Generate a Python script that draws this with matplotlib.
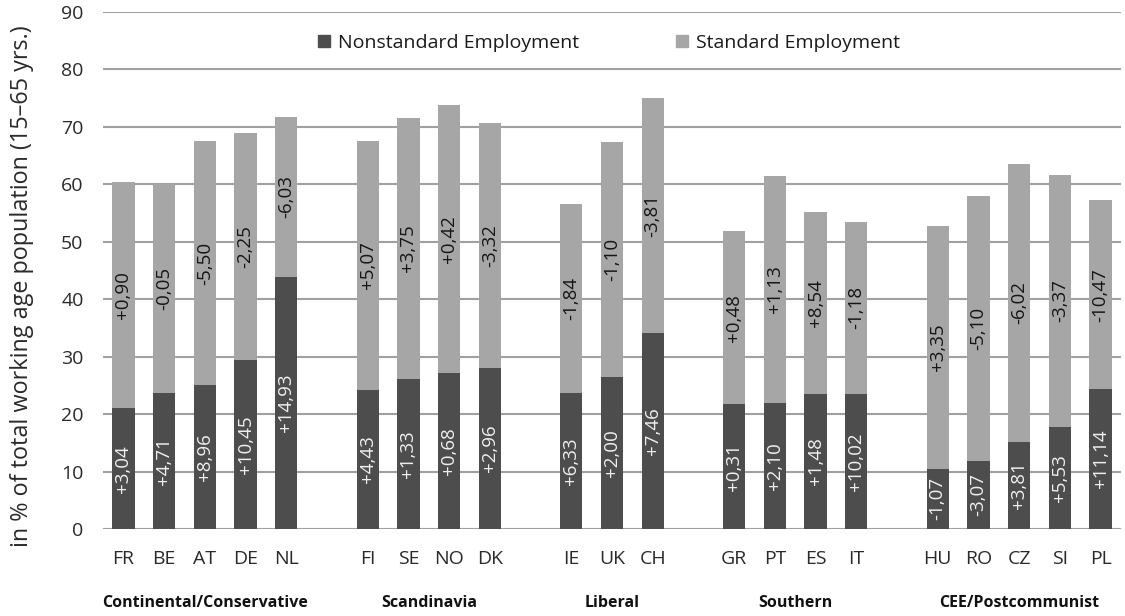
import numpy as np
import matplotlib
matplotlib.use("Agg")
import matplotlib.pyplot as plt
from matplotlib.patches import Patch

plt.rcParams['font.family'] = ['Open Sans', 'DejaVu Sans']

# Data
groups = ["Continental/Conservative", "Scandinavia", "Liberal", "Southern", "CEE/Postcommunist"]
countries = [["FR", "BE", "AT", "DE", "NL"],
             ["FI", "SE", "NO", "DK"],
             ["IE", "UK", "CH"],
             ["GR", "PT", "ES", "IT"],
             ["HU", "RO", "CZ", "SI", "PL"]]
nonstandard = [21.0, 23.6, 25.1, 29.4, 43.8,
               24.2, 26.2, 27.2, 28.0,
               23.7, 26.5, 34.1,
               21.7, 21.9, 23.5, 23.5,
               10.5, 11.9, 15.2, 17.7, 24.4]
total = [60.4, 60.0, 67.5, 68.9, 71.8,
         67.6, 71.6, 73.8, 70.7,
         56.5, 67.3, 75.0,
         51.9, 61.5, 55.2, 53.5,
         52.8, 57.9, 63.6, 61.7, 57.2]
nonstd_change = ["+3,04", "+4,71", "+8,96", "+10,45", "+14,93",
                 "+4,43", "+1,33", "+0,68", "+2,96",
                 "+6,33", "+2,00", "+7,46",
                 "+0,31", "+2,10", "+1,48", "+10,02",
                 "-1,07", "-3,07", "+3,81", "+5,53", "+11,14"]
std_change = ["+0,90", "-0,05", "-5,50", "-2,25", "-6,03",
              "+5,07", "+3,75", "+0,42", "-3,32",
              "-1,84", "-1,10", "-3,81",
              "+0,48", "+1,13", "+8,54", "-1,18",
              "+3,35", "-5,10", "-6,02", "-3,37", "-10,47"]

standard = [t - n for t, n in zip(total, nonstandard)]

# x positions: one empty slot between groups
xpos = []
labels = []
group_centers = []
pos = 0
for g in countries:
    start = pos
    for c in g:
        xpos.append(pos)
        labels.append(c)
        pos += 1
    group_centers.append((start + pos - 1) / 2)
    pos += 1
xpos = np.array(xpos)

dark = "#4d4d4d"
light = "#a6a6a6"

fig = plt.figure(figsize=(11.25, 6.16), dpi=100)
ax = fig.add_axes([0.0916, 0.1412, 0.9048, 0.8393])

ax.bar(xpos, nonstandard, width=0.55, color=dark, zorder=3)
ax.bar(xpos, standard, width=0.55, bottom=nonstandard, color=light, zorder=3)

for x, n, s, ln, ls in zip(xpos, nonstandard, standard, nonstd_change, std_change):
    ax.text(x, n / 2, ln, rotation=90, ha="center", va="center",
            color="#f0f0f0", fontsize=13.5, zorder=4)
    ax.text(x, n + s / 2, ls, rotation=90, ha="center", va="center",
            color="#151515", fontsize=13.5, zorder=4)

ax.set_xlim(-0.5, pos - 1 - 0.5)
ax.set_ylim(0, 90)
ax.set_yticks(range(0, 91, 10))
ax.set_xticks(xpos)
ax.set_xticklabels(labels)
ax.yaxis.grid(True, color="#a0a0a0", linewidth=1.5, zorder=0)
for sp in ax.spines.values():
    sp.set_visible(False)
ax.tick_params(axis="both", length=0, labelsize=14, colors="#2a2a2a")
ax.tick_params(axis="x", pad=15)
ax.tick_params(axis="y", pad=14)
ax.set_ylabel("in % of total working age population (15\u201365 yrs.)",
              fontsize=16.8, color="#2a2a2a")
ax.yaxis.set_label_coords(-0.068, 0.47)

for gc, name in zip(group_centers, groups):
    ax.text(gc, -0.143, name, transform=ax.get_xaxis_transform(),
            ha="center", va="center", fontsize=11.5, fontweight="bold", color="#111111")

handles = [Patch(color=dark), Patch(color=light)]
ax.legend(handles, ["Nonstandard Employment", "Standard Employment"],
          loc="center", bbox_to_anchor=(0.497, 0.94), ncol=2, frameon=False,
          fontsize=14, handlelength=0.6, handleheight=0.6, handletextpad=0.4,
          columnspacing=5.0, labelcolor="#1a1a1a")

fig.savefig("out.png", dpi=100, facecolor="white")
